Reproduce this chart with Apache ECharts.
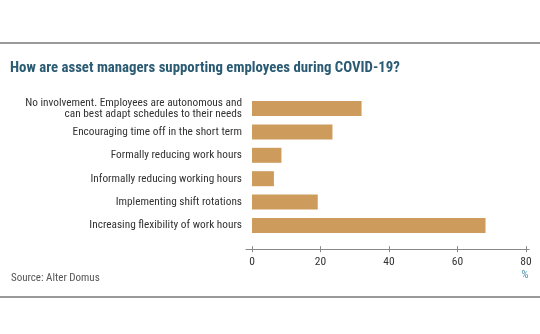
<!DOCTYPE html>
<html>
<head>
<meta charset="utf-8">
<script src="https://cdn.jsdelivr.net/npm/echarts@6/dist/echarts.min.js"></script>
<style>html,body{margin:0;padding:0;background:#fff;}#c{width:540px;height:334px;}</style>
</head>
<body>
<div id="c"></div>
<script>
const categories = [
  "No involvement. Employees are autonomous and\ncan best adapt schedules to their needs",
  "Encouraging time off in the short term",
  "Formally reducing work hours",
  "Informally reducing working hours",
  "Implementing shift rotations",
  "Increasing flexibility of work hours"
];
const values = [32, 23.5, 8.6, 6.4, 19.2, 68.2];
const tickValues = [0, 20, 40, 60, 80];

const FONT = '"Roboto Condensed", "Liberation Sans", sans-serif';
const chart = echarts.init(document.getElementById('c'), null, {renderer: 'canvas'});
const axisBase = {
  type: 'value', position: 'bottom', offset: 12, min: -1.75, max: 80.9,
  splitLine: {show: false}
};
chart.setOption({
  animation: false,
  backgroundColor: '#fff',
  title: [{
    text: 'How are asset managers supporting employees during COVID-19?',
    left: 5, top: 56,
    textStyle: {fontFamily: FONT, fontSize: 14.8, fontWeight: 'bold', color: '#2a5b73'}
  }, {
    text: 'Source: Alter Domus',
    left: 6, top: 268,
    textStyle: {fontFamily: FONT, fontSize: 11, fontWeight: 'normal', color: '#555'}
  }],
  grid: {left: 246, right: 11, top: 96.8, height: 140.4, outerBoundsMode: 'none', containLabel: false},
  yAxis: {
    type: 'category', data: categories, inverse: true,
    axisLine: {show: false}, axisTick: {show: false},
    axisLabel: {fontFamily: FONT, fontSize: 11.3, color: '#333', margin: 4, lineHeight: 11, align: 'right'}
  },
  xAxis: [
    Object.assign({}, axisBase, {
      axisLine: {show: true, lineStyle: {color: '#888', width: 1.2}},
      axisTick: {show: true, length: 3, customValues: tickValues, lineStyle: {color: '#888'}},
      axisLabel: {show: true, customValues: tickValues, fontFamily: FONT, fontSize: 11.5, color: '#333', margin: 7}
    }),
    Object.assign({}, axisBase, {
      axisLine: {show: false},
      axisTick: {show: true, inside: true, length: 3, customValues: tickValues, lineStyle: {color: '#888'}},
      axisLabel: {show: false}
    })
  ],
  graphic: [
    {type: 'rect', shape: {x: 0, y: 42, width: 540, height: 2}, style: {fill: '#9a9a9a'}},
    {type: 'rect', shape: {x: 0, y: 296, width: 540, height: 2}, style: {fill: '#9a9a9a'}},
    {type: 'text', x: 525, y: 275, style: {text: '%', fontFamily: FONT, fontSize: 11.5, fill: '#4a8fb5', align: 'center', verticalAlign: 'middle'}}
  ],
  series: [{
    type: 'bar', data: values, xAxisIndex: 0, barWidth: 15,
    itemStyle: {color: '#cd9b5c'}
  }]
});
</script>
</body>
</html>
